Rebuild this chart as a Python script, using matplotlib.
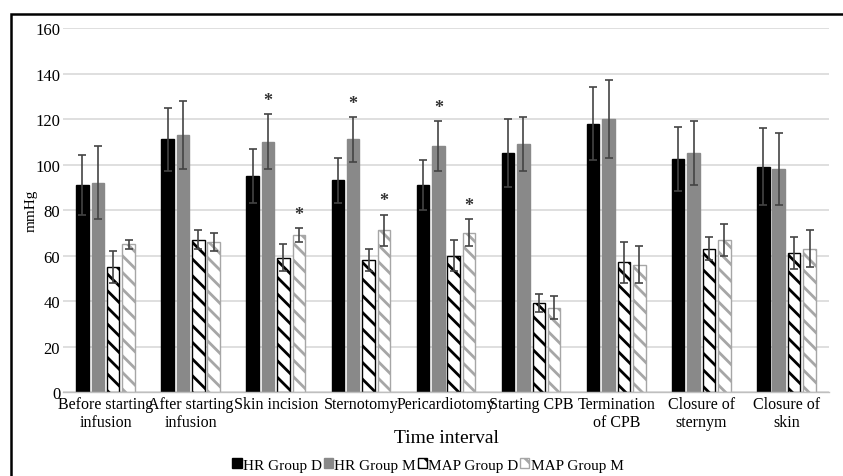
import numpy as np
import matplotlib.pyplot as plt
from matplotlib.patches import Rectangle

plt.rcParams['font.family'] = ['Liberation Serif', 'DejaVu Serif']
plt.rcParams['hatch.linewidth'] = 2.0

categories = ['Before starting\ninfusion', 'After starting\ninfusion', 'Skin incision',
              'Sternotomy', 'Pericardiotomy', 'Starting CPB', 'Termination\nof CPB',
              'Closure of\nsternym', 'Closure of\nskin']
series = ['HR Group D', 'HR Group M', 'MAP Group D', 'MAP Group M']

hr_d = [91, 111, 95, 93, 91, 105, 118, 102.5, 99]
hr_m = [92, 113, 110, 111, 108, 109, 120, 105, 98]
map_d = [55, 67, 59, 58, 60, 39, 57, 63, 61]
map_m = [65, 66, 69, 71, 70, 37, 56, 67, 63]

hr_d_err = [13, 14, 12, 10, 11, 15, 16, 14, 17]
hr_m_err = [16, 15, 12, 10, 11, 12, 17, 14, 16]
map_d_err = [7, 4, 6, 5, 7, 4, 9, 5, 7]
map_m_err = [2, 4, 3, 7, 6, 5, 8, 7, 8]

# significant differences: (category index, series index)
stars = [(2, 1), (3, 1), (4, 1), (2, 3), (3, 3), (4, 3)]

values = [hr_d, hr_m, map_d, map_m]
errors = [hr_d_err, hr_m_err, map_d_err, map_m_err]
faces = ['black', '#898989', 'white', 'white']
edges = ['black', '#898989', 'black', '#a6a6a6']
hatches = [None, None, '\\\\', '\\\\']

fig = plt.figure(figsize=(8.43, 4.77), dpi=100)
ax = fig.add_axes([0.0747, 0.1761, 0.9087, 0.7631])

x = np.arange(len(categories))
pitch = 0.181
width = 0.147
for i in range(4):
    pos = x + (i - 1.5) * pitch
    ax.bar(pos, values[i], width, color=faces[i], edgecolor=edges[i],
           hatch=hatches[i], linewidth=1.0, label=series[i], zorder=2)
    ax.errorbar(pos, values[i], yerr=errors[i], fmt='none', ecolor='#444444',
                elinewidth=1.2, capsize=3, capthick=1.2, zorder=3)

for c, s in stars:
    top = values[s][c] + errors[s][c]
    ax.text(x[c] + (s - 1.5) * pitch, top + 6, '*', ha='center', va='center',
            fontsize=13, fontweight='bold', color='#333333')

ax.set_xlim(-0.5, len(categories) - 0.5)
ax.set_ylim(0, 160)
ax.set_yticks(range(0, 161, 20))
ax.set_xticks(x)
ax.set_xticklabels(categories, fontsize=11.5, linespacing=1.15)
ax.tick_params(axis='y', length=0, labelsize=12, pad=2)
ax.tick_params(axis='x', length=0, pad=3)
ax.grid(axis='y', color='#d9d9d9', linewidth=1.2, zorder=0)
ax.set_axisbelow(True)
for sp in ['left', 'top', 'right']:
    ax.spines[sp].set_visible(False)
ax.spines['bottom'].set_color('#bfbfbf')
ax.spines['bottom'].set_linewidth(1.0)

ax.set_ylabel('mmHg', fontsize=11)
ax.yaxis.set_label_coords(-0.033, 0.5)
ax.set_xlabel('Time interval', fontsize=14, va='center')
ax.xaxis.set_label_coords(0.5, -0.124)

fig.legend(loc='center', bbox_to_anchor=(428 / 843, 0.023), ncol=4, frameon=False,
           fontsize=11, handlelength=0.6, handleheight=0.6, handletextpad=0.1,
           columnspacing=0.1, borderaxespad=0)

# outer frame of the original figure
fig.add_artist(Rectangle((11 / 843, -0.2), 1.2, 1.2 - 15 / 477, transform=fig.transFigure,
                         fill=False, edgecolor='black', linewidth=1.8, clip_on=False))

fig.savefig('out.png', dpi=100)
